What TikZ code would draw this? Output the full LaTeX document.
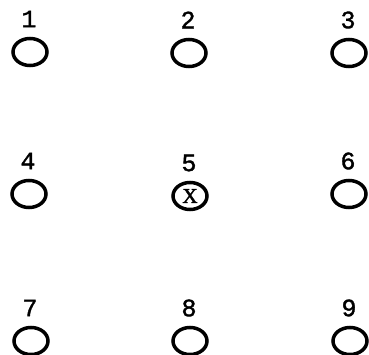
\documentclass[tikz,border=0pt]{standalone}
\usepackage{fontspec}
\setmonofont[FakeBold=1.5,AutoFakeBold=1.5]{Liberation Mono}
\newfontfamily\xfont[FakeBold=2]{Liberation Serif}
\usetikzlibrary{shapes.geometric}
\begin{document}
\begin{tikzpicture}[x=1pt,y=-1pt,
  hole/.style={draw=black,line width=3.5pt,ellipse,minimum width=34pt,minimum height=27pt,inner sep=0pt},
  num/.style={font=\ttfamily\fontsize{25}{25}\selectfont,inner sep=0pt}]
\useasboundingbox (0,0) rectangle (369,355);
\foreach \i/\x/\y in {1/30/52,2/189/53,3/349/53,4/29/194,5/190/196,6/349/194,7/31/341,8/190/341,9/350/341}{
  \node[num] (l\i) at (\x-1,\y-33) {\i};
}
\node[hole] (c1) at (30,52) {};
\node[hole] (c2) at (189,53) {};
\node[hole] (c3) at (349,53) {};
\node[hole] (c4) at (29,194) {};
\node[hole,font=\xfont\fontsize{21}{21}\selectfont] (c5) at (190,196) {X};
\node[hole] (c6) at (349,194) {};
\node[hole] (c7) at (31,341) {};
\node[hole] (c8) at (190,341) {};
\node[hole] (c9) at (350,341) {};
\end{tikzpicture}
\end{document}
